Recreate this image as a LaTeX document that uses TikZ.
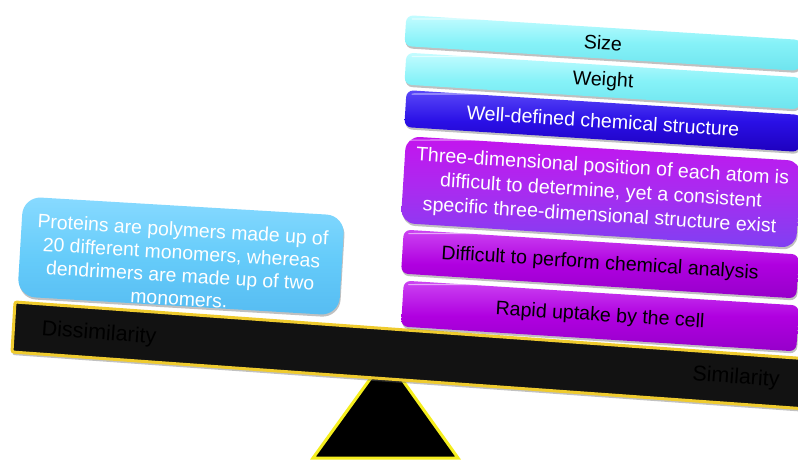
\documentclass[tikz,border=0pt]{standalone}
\usepackage{fontspec}
\setmainfont{Liberation Sans}
\usetikzlibrary{shadows}
\definecolor{cyanT}{HTML}{C4FCFF}
\definecolor{cyanM}{HTML}{86F2F8}
\definecolor{cyanB}{HTML}{6EE4EE}
\definecolor{blueT}{HTML}{5A48F8}
\definecolor{blueM}{HTML}{2A10E6}
\definecolor{blueB}{HTML}{1E00BE}
\definecolor{violT}{HTML}{C414EE}
\definecolor{violM}{HTML}{A82CF0}
\definecolor{violB}{HTML}{8040F2}
\definecolor{magT}{HTML}{CC44F2}
\definecolor{magM}{HTML}{B000E0}
\definecolor{magB}{HTML}{9600CA}
\definecolor{skyT}{HTML}{88DAFF}
\definecolor{skyM}{HTML}{66CCFA}
\definecolor{skyB}{HTML}{56BCF2}
\definecolor{beamgold}{HTML}{EFCB2E}
\definecolor{fulyel}{HTML}{F5EE1E}
\begin{document}
\begin{tikzpicture}[x=1pt,y=-1pt,
  softshadow/.style={drop shadow={shadow xshift=0.8pt,shadow yshift=-2.2pt,opacity=0.35,fill=black!70}},
  gloss/.style={path picture={\draw[white, opacity=0.55, line width=1.2pt, line cap=round]
      ([xshift=8pt,yshift=-3.5pt]path picture bounding box.north west) --
      ([xshift=-8pt,yshift=-3.5pt]path picture bounding box.north east);}},
  rbox/.style={rounded corners=7pt, minimum width=396pt, inner sep=0pt, align=center,
    font=\fontsize{19.6}{24.5}\selectfont, softshadow, gloss, rotate=-3.6},
  cyanbox/.style={top color=cyanT, bottom color=cyanB, middle color=cyanM, text=black},
  bluebox/.style={top color=blueT, bottom color=blueB, middle color=blueM, text=white},
  violbox/.style={top color=violT, bottom color=violB, middle color=violM, text=white, rounded corners=14pt},
  magbox/.style={top color=magT, bottom color=magB, middle color=magM, text=black},
  lbox/.style={rounded corners=18pt, minimum width=322pt, minimum height=100pt, inner sep=0pt,
    top color=skyT, bottom color=skyB, middle color=skyM, softshadow, rotate=-3.4},
  ltext/.style={align=center, text=white, font=\fontsize{19.4}{23}\selectfont, rotate=-3.4, inner sep=0pt},
  beam/.style={draw=beamgold, line width=3pt, fill=black!93, rounded corners=2pt,
    drop shadow={shadow xshift=0.5pt,shadow yshift=-3pt,opacity=0.4,fill=black!60}},
  beamtxt/.style={text=black, font=\fontsize{21.5}{24}\selectfont, rotate=-4.1, inner sep=0pt},
  fulcrum/.style={draw=fulyel, line width=3pt, fill=black, line join=miter}
]
\useasboundingbox (0,0) rectangle (798,460);
\clip (0,0) rectangle (798,460);
\fill[white] (0,0) rectangle (798,460);

% fulcrum
\draw[fulcrum] (386,357) -- (458,458) -- (313,458) -- cycle;

% beam
\draw[beam] (15,302) -- (845,361.5) -- (842,411.5) -- (12,352) -- cycle;
\node[beamtxt] (dis) at (99,334) {Dissimilarity};
\node[beamtxt] (sim) at (736,378) {Similarity};

% left box
\node[lbox] (prot) at (181,256) {};
\node[ltext] (prottxt) at (181,264) {Proteins are polymers made up of\\20 different monomers, whereas\\dendrimers are made up of two\\monomers.};

% right stack
\node[rbox, cyanbox, minimum height=31pt] (size) at (603,43) {Size};
\node[rbox, cyanbox, minimum height=32pt] (weight) at (603,81) {Weight};
\node[rbox, bluebox, minimum height=37pt] (welldef) at (603,121) {Well-defined chemical structure};
\node[rbox, violbox, minimum height=87pt] (three) at (601,192) {Three-dimensional position of each atom is\\difficult to determine, yet a consistent\\specific three-dimensional structure exist};
\node[rbox, magbox, minimum height=44pt] (diff) at (600,264) {Difficult to perform chemical analysis};
\node[rbox, magbox, minimum height=46pt] (rapid) at (600,316) {Rapid uptake by the cell};
\end{tikzpicture}
\end{document}
